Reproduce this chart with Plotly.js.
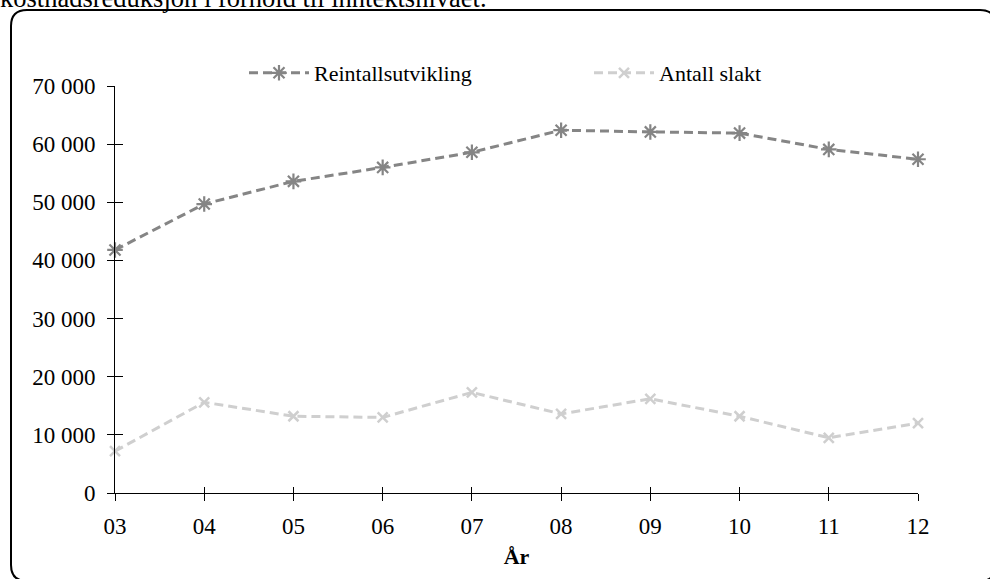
<!DOCTYPE html>
<html>
<head>
<meta charset="utf-8">
<script src="https://cdn.plot.ly/plotly-3.0.1.min.js"></script>
<style>html,body{margin:0;padding:0;background:#fff;}#chart{width:990px;height:579px;}</style>
</head>
<body>
<div id="chart"></div>
<script>
const years = ["03","04","05","06","07","08","09","10","11","12"];
const reintall = [41800, 49700, 53600, 56000, 58600, 62400, 62100, 61900, 59100, 57400];
const slakt = [7200, 15600, 13200, 13000, 17300, 13600, 16200, 13200, 9500, 12000];
const seriesNames = ["Reintallsutvikling", "Antall slakt"];
const yTicks = [0, 10000, 20000, 30000, 40000, 50000, 60000, 70000];
const yTickLabels = ["0", "10\u00a0000", "20\u00a0000", "30\u00a0000", "40\u00a0000", "50\u00a0000", "60\u00a0000", "70\u00a0000"];
const xTitle = "År";
const topText = "kostnadsreduksjon i forhold til inntektsnivået.";

const W = 990, H = 579;
const L = 115, R = 72, T = 86, B = 86;
const pw = W - L - R, ph = H - T - B;
const px = x => (x - L) / pw;
const py = y => (H - B - y) / ph;

const FONT = "Liberation Serif, Times New Roman, serif";
const nulls = years.map(() => null);

const traces = [
  {
    x: years, y: reintall, name: seriesNames[0], type: "scatter", mode: "lines+markers",
    legend: "legend",
    line: {color: "#858585", width: 3, dash: "9px,5px"},
    marker: {symbol: "asterisk-open", size: 13, color: "#858585", line: {color: "#858585", width: 2.2}},
    cliponaxis: false
  },
  {
    x: years, y: slakt, name: seriesNames[1], type: "scatter", mode: "lines+markers",
    legend: "legend2",
    line: {color: "#cfcfcf", width: 3, dash: "9px,5px"},
    marker: {symbol: "x-thin-open", size: 10, color: "#cfcfcf", line: {color: "#cfcfcf", width: 2.5}},
    cliponaxis: false
  },
  // carriers for the inside tick halves
  {x: years, y: nulls, xaxis: "x2", yaxis: "y", mode: "markers", showlegend: false, hoverinfo: "skip"},
  {x: years, y: nulls, xaxis: "x", yaxis: "y2", mode: "markers", showlegend: false, hoverinfo: "skip"}
];

// rounded border
const x0 = px(11), x1 = px(996), y0 = py(10), y1 = py(581);
const rx = 16 / pw, ry = 16 / ph;
const path = `M ${x0 + rx},${y0} L ${x1 - rx},${y0} Q ${x1},${y0} ${x1},${y0 - ry} L ${x1},${y1 + ry} Q ${x1},${y1} ${x1 - rx},${y1} L ${x0 + rx},${y1} Q ${x0},${y1} ${x0},${y1 + ry} L ${x0},${y0 - ry} Q ${x0},${y0} ${x0 + rx},${y0} Z`;

const legendBase = {
  orientation: "h", xanchor: "left", yanchor: "middle", y: py(73),
  font: {family: FONT, size: 22, color: "#000"},
  itemwidth: 60, bgcolor: "rgba(0,0,0,0)", borderwidth: 0
};

const layout = {
  width: W, height: H,
  margin: {l: L, r: R, t: T, b: B, pad: 0},
  paper_bgcolor: "#fff", plot_bgcolor: "rgba(0,0,0,0)",
  font: {family: FONT, size: 22, color: "#000"},
  showlegend: true,
  legend: Object.assign({}, legendBase, {x: px(244)}),
  legend2: Object.assign({}, legendBase, {x: px(589)}),
  xaxis: {
    type: "category", range: [0, 9], showgrid: false, zeroline: false,
    showline: true, linecolor: "#000", linewidth: 1,
    ticks: "outside", ticklen: 7, tickcolor: "#000", tickwidth: 1,
    tickfont: {family: FONT, size: 23, color: "#000"},
    ticklabelstandoff: 5,
    title: {text: "<b>" + xTitle + "</b>", font: {family: FONT, size: 22, color: "#000"}, standoff: 11}
  },
  yaxis: {
    range: [0, 70000], tickvals: yTicks, ticktext: yTickLabels, showgrid: false, zeroline: false,
    showline: true, linecolor: "#000", linewidth: 1,
    ticks: "outside", ticklen: 7, tickcolor: "#000", tickwidth: 1,
    tickfont: {family: FONT, size: 23, color: "#000"},
    ticklabelstandoff: 7
  },
  xaxis2: {
    type: "category", range: [0, 9], overlaying: "x", anchor: "y", side: "bottom",
    showgrid: false, zeroline: false, showline: false, showticklabels: false,
    ticks: "inside", ticklen: 6, tickcolor: "#000", tickwidth: 1
  },
  yaxis2: {
    range: [0, 70000], overlaying: "y", anchor: "x", side: "left",
    showgrid: false, zeroline: false, showline: false, showticklabels: false,
    ticks: "inside", ticklen: 8, tickcolor: "#000", tickwidth: 1, tickvals: yTicks
  },
  shapes: [{type: "path", xref: "paper", yref: "paper", path: path, line: {color: "#000", width: 2}, fillcolor: "rgba(0,0,0,0)", layer: "above"}],
  annotations: [{
    xref: "paper", yref: "paper", x: px(-2), y: py(-2), xanchor: "left", yanchor: "middle",
    text: topText, showarrow: false,
    font: {family: FONT, size: 26.5, color: "#000"}
  }]
};

Plotly.newPlot("chart", traces, layout, {displayModeBar: false, staticPlot: true});
</script>
</body>
</html>
